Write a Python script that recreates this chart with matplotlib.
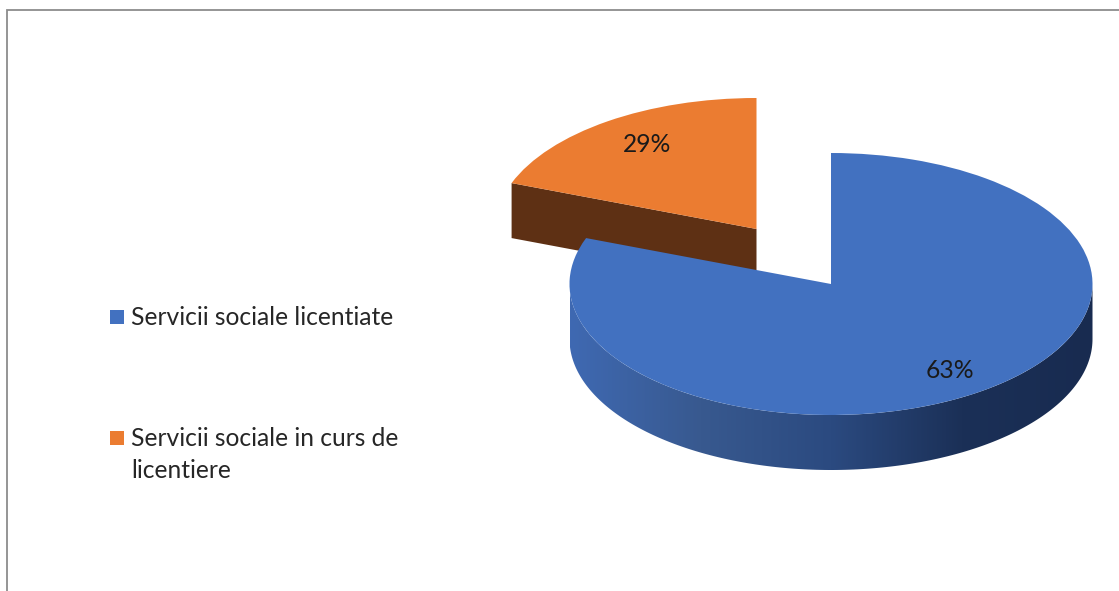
import numpy as np
import matplotlib
matplotlib.use("Agg")
import matplotlib.pyplot as plt
from matplotlib.patches import Wedge, Polygon, Rectangle, PathPatch
from matplotlib.path import Path
from matplotlib.colors import LinearSegmentedColormap
from matplotlib.transforms import Affine2D

# Data
categories = ["Servicii sociale licentiate", "Servicii sociale in curs de\nlicentiere"]
drawn_shares = [80.7, 19.3]          # share of the circle each slice occupies in the picture
value_labels = ["63%", "29%"]
top_colors = ["#4271C0", "#EB7C31"]
wall_gradient = ["#3F69B2", "#38598F", "#2B4A80", "#1B3057", "#182B50"]
orange_wall = "#5E3014"

W, H = 1119, 591
fig = plt.figure(figsize=(W / 100, H / 100), dpi=100, facecolor="white")
ax = fig.add_axes([0, 0, 1, 1])
ax.set_xlim(0, W)
ax.set_ylim(H, 0)
ax.axis("off")
plt.rcParams["font.family"] = ["Lato", "DejaVu Sans"]

rx, ry, depth = 261.5, 131.0, 55.0
blue_c = (831.0, 284.0)
orange_c = (756.5, 229.0)


def ell(center, theta_deg, dz=0.0):
    t = np.radians(theta_deg)
    return np.column_stack([center[0] + rx * np.cos(t), center[1] - ry * np.sin(t) + dz])


def unit_tf(center):
    return Affine2D().scale(rx, -ry).translate(*center) + ax.transData


blue_sweep = 360 * drawn_shares[0] / 100
orange_sweep = 360 * drawn_shares[1] / 100

# Orange slice: front cut wall, then top
edge = ell(orange_c, np.array([90 + orange_sweep]))[0]
ax.add_patch(Polygon([edge, orange_c, (orange_c[0], orange_c[1] + depth), (edge[0], edge[1] + depth)],
                     closed=True, fc=orange_wall, ec="none", zorder=2))
ax.add_patch(Wedge((0, 0), 1, 90, 90 + orange_sweep, fc=top_colors[1], ec="none",
                   transform=unit_tf(orange_c), zorder=3))

# Blue slice: curved gradient wall, then top
th = np.linspace(180, 360, 200)
wall_pts = np.vstack([ell(blue_c, th), ell(blue_c, th[::-1], depth)])
wall_patch = PathPatch(Path(np.vstack([wall_pts, wall_pts[0]]), closed=True), fc="none", ec="none",
                       transform=ax.transData)
ax.add_patch(wall_patch)
cmap = LinearSegmentedColormap.from_list("wall", wall_gradient)
img = ax.imshow(np.linspace(0, 1, 256)[None, :], cmap=cmap, aspect="auto", zorder=4,
                extent=(blue_c[0] - rx, blue_c[0] + rx, blue_c[1] + ry + depth, blue_c[1] - 5))
img.set_clip_path(wall_patch)
ax.set_xlim(0, W)
ax.set_ylim(H, 0)
ax.add_patch(Wedge((0, 0), 1, 90 - blue_sweep, 90, fc=top_colors[0], ec="none",
                   transform=unit_tf(blue_c), zorder=5))

# Value labels
txt = "#1a1a1a"
ax.text(949.5, 370, value_labels[0], ha="center", va="center", fontsize=17.7, color=txt, zorder=6)
ax.text(647, 144, value_labels[1], ha="center", va="center", fontsize=17.7, color=txt, zorder=6)

# Legend
swatch_y = [309.5, 430.5]
text_y = [317.5, 454.5]
for col, cat, sy, ty in zip(top_colors, categories, swatch_y, text_y):
    ax.add_patch(Rectangle((110, sy), 14, 14, fc=col, ec="none", zorder=6))
    ax.text(131, ty, cat, ha="left", va="center", fontsize=17.7, color="#262626",
            linespacing=1.49, zorder=6)

# Frame remnants
ax.plot([6.5, 6.5, W], [H, 9.5, 9.5], color="#8c8c8c", lw=1.3, solid_joinstyle="miter", zorder=1)

fig.savefig("out.png", dpi=100, facecolor="white")
